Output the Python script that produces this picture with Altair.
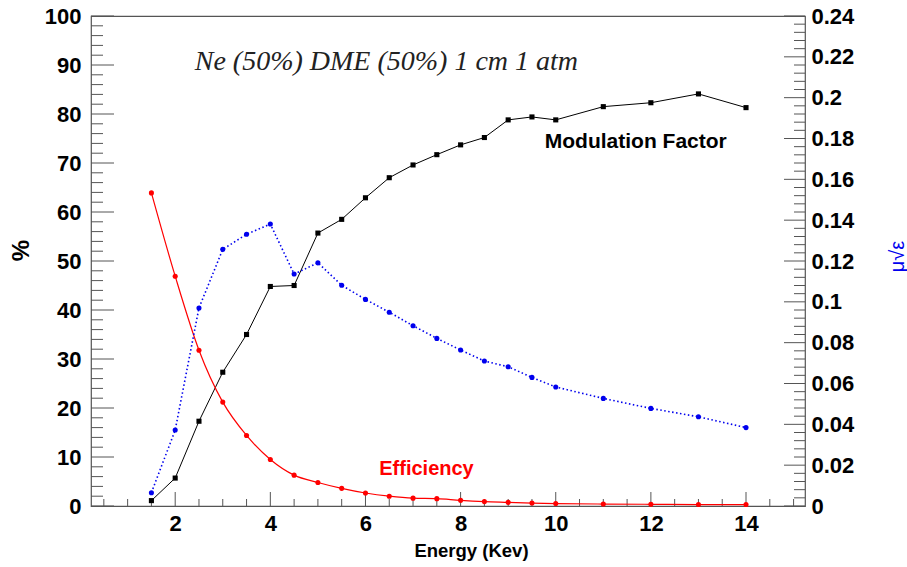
import altair as alt
import pandas as pd

# ---- data ----
energy = [1.5, 2, 2.5, 3, 3.5, 4, 4.5, 5, 5.5, 6, 6.5, 7, 7.5, 8, 8.5, 9, 9.5, 10, 11, 12, 13, 14]
modulation = [1.1, 5.7, 17.3, 27.3, 35.0, 44.8, 45.0, 55.7, 58.5, 62.9, 67.0, 69.6, 71.7, 73.7,
              75.2, 78.8, 79.4, 78.8, 81.5, 82.3, 84.1, 81.3]
efficiency = [63.9, 46.9, 31.8, 21.2, 14.4, 9.5, 6.3, 4.8, 3.6, 2.65, 2.0, 1.6, 1.5, 1.15,
              0.9, 0.75, 0.6, 0.5, 0.4, 0.35, 0.3, 0.3]
mu_sqrt_eps = [0.0065, 0.0372, 0.097, 0.1257, 0.1331, 0.1381, 0.1136, 0.1191, 0.1081, 0.1012,
               0.0949, 0.0883, 0.0821, 0.0764, 0.0710, 0.0682, 0.0630, 0.0583, 0.0527, 0.0478,
               0.0437, 0.0384]

x_labels = [2, 4, 6, 8, 10, 12, 14]
x_minor = [0.5, 1, 1.5, 2.5, 3, 3.5, 4.5, 5, 5.5, 6.5, 7, 7.5, 8.5, 9, 9.5, 10.5, 11, 11.5,
           12.5, 13, 13.5, 14.5, 15]
left_major = [0, 10, 20, 30, 40, 50, 60, 70, 80, 90, 100]
left_minor = [v for v in range(0, 101, 2) if v % 10 != 0]
right_major = [0, 0.02, 0.04, 0.06, 0.08, 0.1, 0.12, 0.14, 0.16, 0.18, 0.2, 0.22, 0.24]
right_minor = [round(i * 0.004, 3) for i in range(0, 61) if i % 5 != 0]

labels_text = ["Modulation Factor", "Efficiency"]
labels_x = [9.77, 6.29]
labels_y = [74.3, 7.5]
labels_color = ["black", "#ff0000"]
labels_size = [21, 20]

title_text = "Ne (50%) DME (50%) 1 cm 1 atm"
title_x = [6.44]
title_y = [90.6]

# ---- geometry ----
W, H = 714, 490
XDOM = [0.23, 15.24]
LDOM = [0, 100]
RDOM = [0, 0.24]
FONT = "Liberation Sans"

df = pd.DataFrame({"E": energy, "mod": modulation, "eff": efficiency, "mu": mu_sqrt_eps})

xs = alt.Scale(domain=XDOM, nice=False, zero=False)
ls = alt.Scale(domain=LDOM, nice=False, zero=False)
rs = alt.Scale(domain=RDOM, nice=False, zero=False)

x_axis = alt.Axis(values=x_labels, format="d", ticks=False, tickSize=0, domain=False, grid=False,
                  labelFont=FONT, labelFontSize=22, labelFontWeight="bold", labelColor="black",
                  labelPadding=7, title="Energy (Kev)", titleFont=FONT, titleFontSize=18.5,
                  titleFontWeight="bold", titleColor="black", titleX=380, titleY=44,
                  titleBaseline="middle", titleAlign="center")
left_axis = alt.Axis(values=left_major, format="d", ticks=False, tickSize=0, domain=False, grid=False,
                     labelFont=FONT, labelFontSize=22, labelFontWeight="bold", labelColor="black",
                     labelPadding=10, title="%", titleFont=FONT, titleFontSize=24,
                     titleFontWeight="bold", titleColor="black", titleAngle=270, titleX=-70,
                     titleY=234, titleBaseline="middle", titleAlign="center")
right_axis = alt.Axis(values=right_major, format="~g", orient="right", ticks=False, tickSize=0,
                      domain=False, grid=False, labelFont=FONT, labelFontSize=22,
                      labelFontWeight="bold", labelColor="black", labelPadding=6,
                      title="μ√ε", titleFont=FONT, titleFontSize=20, titleFontWeight="normal",
                      titleColor="#0000ee", titleAngle=270, titleX=92, titleY=240,
                      titleBaseline="middle", titleAlign="center")


def X(field):
    return alt.X(field, scale=xs, axis=x_axis)


def YL(field):
    return alt.Y(field, scale=ls, axis=left_axis)


def YR(field):
    return alt.Y(field, scale=rs, axis=right_axis)


base = alt.Chart(df)

mod_line = base.mark_line(color="black", strokeWidth=1).encode(x=X("E:Q"), y=YL("mod:Q"))
mod_pts = base.mark_point(shape="square", filled=True, color="black", size=26, opacity=1).encode(
    x=X("E:Q"), y=YL("mod:Q"))
eff_line = base.mark_line(color="#ff0000", strokeWidth=1.2, interpolate="monotone").encode(
    x=X("E:Q"), y=YL("eff:Q"))
eff_pts = base.mark_point(shape="circle", filled=True, color="#ff0000", size=26, opacity=1).encode(
    x=X("E:Q"), y=YL("eff:Q"))

lab_df = pd.DataFrame({"t": labels_text, "x": labels_x, "y": labels_y, "c": labels_color,
                       "s": labels_size})
labels = alt.Chart(lab_df).mark_text(font=FONT, fontWeight="bold", align="left",
                                     baseline="middle").encode(
    x=X("x:Q"), y=YL("y:Q"), text="t:N", color=alt.Color("c:N", scale=None),
    size=alt.Size("s:Q", scale=None))

ttl_df = pd.DataFrame({"t": [title_text], "x": title_x, "y": title_y})
title = alt.Chart(ttl_df).mark_text(font="Liberation Serif", fontSize=28, fontStyle="italic",
                                    align="center", baseline="middle", color="#222").encode(
    x=X("x:Q"), y=YL("y:Q"), text="t:N")

TICK = "#555555"
lmaj = alt.Chart(pd.DataFrame({"v": left_major})).mark_rule(color=TICK, strokeWidth=1).encode(
    x=alt.value(0), x2=alt.value(23), y=YL("v:Q"))
lmin = alt.Chart(pd.DataFrame({"v": left_minor})).mark_rule(color=TICK, strokeWidth=1).encode(
    x=alt.value(0), x2=alt.value(12), y=YL("v:Q"))
bmaj = alt.Chart(pd.DataFrame({"v": x_labels})).mark_rule(color=TICK, strokeWidth=1).encode(
    x=X("v:Q"), y=alt.value(H), y2=alt.value(H - 14))
bmin = alt.Chart(pd.DataFrame({"v": x_minor})).mark_rule(color=TICK, strokeWidth=1).encode(
    x=X("v:Q"), y=alt.value(H), y2=alt.value(H - 7))

left = alt.layer(mod_line, lmaj, lmin, bmaj, bmin, eff_line, eff_pts, mod_pts, labels, title)

mu_line = base.mark_line(color="#0000ee", strokeWidth=1.6, strokeDash=[1.5, 2.5]).encode(
    x=X("E:Q"), y=YR("mu:Q"))
mu_pts = base.mark_point(shape="circle", filled=True, color="#0000ee", size=26, opacity=1).encode(
    x=X("E:Q"), y=YR("mu:Q"))
rmaj = alt.Chart(pd.DataFrame({"v": right_major})).mark_rule(color=TICK, strokeWidth=1).encode(
    x=alt.value(W), x2=alt.value(W - 21), y=YR("v:Q"))
rmin = alt.Chart(pd.DataFrame({"v": right_minor})).mark_rule(color=TICK, strokeWidth=1).encode(
    x=alt.value(W), x2=alt.value(W - 11), y=YR("v:Q"))

right = alt.layer(mu_line, rmaj, rmin, mu_pts)

chart = alt.layer(left, right).resolve_scale(y="independent").properties(
    width=W, height=H,
    autosize=alt.AutoSizeParams(type="none"),
    padding={"left": 91, "top": 16, "right": 102, "bottom": 61},
    background="white",
).configure_view(stroke="#555555", strokeWidth=1.2)

chart.save("out.html", embed_options={"renderer": "svg", "actions": False})
